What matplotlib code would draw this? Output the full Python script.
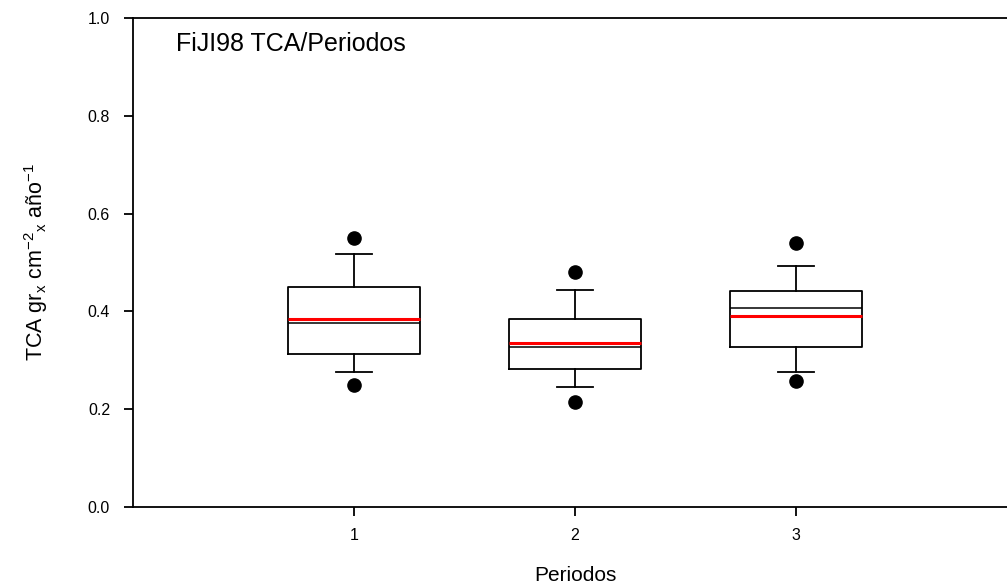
import matplotlib
matplotlib.use("Agg")
import matplotlib.pyplot as plt

plt.rcParams['font.family'] = ['Liberation Sans', 'DejaVu Sans']
plt.rcParams['mathtext.fontset'] = 'custom'
plt.rcParams['mathtext.rm'] = 'Liberation Sans'
plt.rcParams['mathtext.it'] = 'Liberation Sans:italic'
plt.rcParams['mathtext.bf'] = 'Liberation Sans:bold'

# Data
periods = [1, 2, 3]
tick_labels = ['1', '2', '3']
q1 = [0.312, 0.281, 0.326]
medians = [0.377, 0.328, 0.406]
q3 = [0.450, 0.384, 0.442]
whis_lo = [0.276, 0.245, 0.275]
whis_hi = [0.517, 0.444, 0.493]
means = [0.385, 0.335, 0.390]
outliers_lo = [0.249, 0.215, 0.258]
outliers_hi = [0.550, 0.480, 0.540]
yticks = [0.0, 0.2, 0.4, 0.6, 0.8, 1.0]

fig = plt.figure(figsize=(10.07, 5.88), dpi=100)
ax = fig.add_axes([133/1007, 1-506.7/588, (1017-133)/1007, (506.7-18.3)/588])

stats = []
for i in range(len(periods)):
    stats.append(dict(med=medians[i], q1=q1[i], q3=q3[i], whislo=whis_lo[i], whishi=whis_hi[i],
                      mean=means[i], fliers=[outliers_lo[i], outliers_hi[i]]))

ax.bxp(stats, positions=periods, widths=0.6, capwidths=0.16, showmeans=True, meanline=True,
       boxprops=dict(color='black', linewidth=1.3),
       whiskerprops=dict(color='black', linewidth=1.3),
       capprops=dict(color='black', linewidth=1.3),
       medianprops=dict(color='black', linewidth=1.1),
       meanprops=dict(color='#ff0000', linewidth=2.2, linestyle='-'),
       flierprops=dict(marker='o', markerfacecolor='black', markeredgecolor='black', markersize=9.5, linestyle='none'))

ax.set_xlim(0, 4)
ax.set_ylim(0, 1.0)
ax.set_xticks(periods)
ax.set_xticklabels(tick_labels)
ax.set_yticks(yticks)
ax.set_yticklabels(['%.1f' % v for v in yticks])
ax.spines['right'].set_visible(False)
for s in ['left', 'top', 'bottom']:
    ax.spines[s].set_linewidth(1.3)
ax.tick_params(axis='both', direction='out', length=6.5, width=1.3, labelsize=11.5)
ax.tick_params(axis='y', pad=10)
ax.tick_params(axis='x', pad=9)

ax.set_xlabel('Periodos', fontsize=15)
ax.xaxis.set_label_coords(0.5, (506.7-566)/488.4)
ax.set_ylabel('TCA gr$_{\\mathrm{x}}$ cm$^{-2}$$_{\\mathrm{x}}$ año$^{-1}$', fontsize=15.5)
ax.yaxis.set_label_coords((50-133)/884, 0.5)

fig.text(176/1007, 1-44/588, 'FiJI98 TCA/Periodos', fontsize=18, ha='left', va='center')

fig.savefig('out.png', dpi=100)
